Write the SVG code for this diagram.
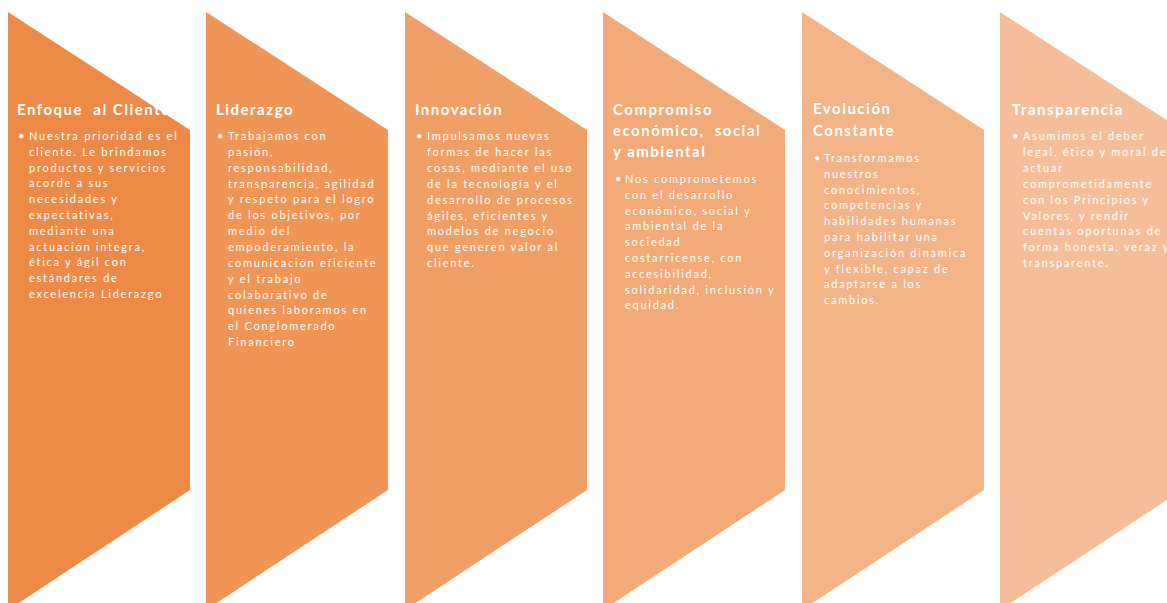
<svg xmlns="http://www.w3.org/2000/svg" width="1167" height="603" viewBox="0 0 1167 603">
<style>
.t{font-family:Lato,"Open Sans","Liberation Sans",sans-serif;font-weight:bold;font-size:15px;letter-spacing:1.5px;fill:#fff}
.b{font-family:Lato,"Open Sans","Liberation Sans",sans-serif;font-size:11px;letter-spacing:1.75px;fill:#fff}
</style>
<rect width="1167" height="603" fill="#fff"/>
<g id="n1">
<polygon points="8,12 190,130 190,490 8,610" fill="#EE8A47"/>
<text class="t" x="17" y="115" xml:space="preserve">Enfoque  al Cliente</text>
<text class="b" x="18" y="140">•</text>
<text class="b"><tspan x="29" y="140">Nuestra prioridad es el</tspan><tspan x="29" y="155.8">cliente. Le brindamos</tspan><tspan x="29" y="171.6">productos  y servicios</tspan><tspan x="29" y="187.4">acorde a sus</tspan><tspan x="29" y="203.2">necesidades y</tspan><tspan x="29" y="219">expectativas,</tspan><tspan x="29" y="234.8">mediante una</tspan><tspan x="29" y="250.6">actuación integra,</tspan><tspan x="29" y="266.4">ética y ágil con</tspan><tspan x="29" y="282.2">estándares de</tspan><tspan x="29" y="298">excelencia Liderazgo</tspan></text>
</g>
<g id="n2">
<polygon points="206,12 388,130 388,490 206,610" fill="#EF9556"/>
<text class="t" x="216" y="115">Liderazgo</text>
<text class="b" x="217" y="140">•</text>
<text class="b"><tspan x="228" y="140">Trabajamos con</tspan><tspan x="228" y="155.85">pasión,</tspan><tspan x="228" y="171.7">responsabilidad,</tspan><tspan x="228" y="187.55">transparencia, agilidad</tspan><tspan x="228" y="203.4">y respeto para el logro</tspan><tspan x="228" y="219.25">de los objetivos, por</tspan><tspan x="228" y="235.1">medio del</tspan><tspan x="228" y="250.95">empoderamiento, la</tspan><tspan x="228" y="266.8">comunicación eficiente</tspan><tspan x="228" y="282.65">y el trabajo</tspan><tspan x="228" y="298.5">colaborativo de</tspan><tspan x="228" y="314.35">quienes laboramos en</tspan><tspan x="228" y="330.2">el Conglomerado</tspan><tspan x="228" y="346.05">Financiero</tspan></text>
</g>
<g id="n3">
<polygon points="405,12 587,130 587,490 405,610" fill="#F09F66"/>
<text class="t" x="415" y="115">Innovación</text>
<text class="b" x="416" y="140">•</text>
<text class="b"><tspan x="427" y="140">Impulsamos nuevas</tspan><tspan x="427" y="155.9">formas de hacer las</tspan><tspan x="427" y="171.8">cosas, mediante el uso</tspan><tspan x="427" y="187.7">de la tecnología y el</tspan><tspan x="427" y="203.6">desarrollo de procesos</tspan><tspan x="427" y="219.5">ágiles, eficientes y</tspan><tspan x="427" y="235.4">modelos de negocio</tspan><tspan x="427" y="251.3">que generen valor al</tspan><tspan x="427" y="267.2">cliente.</tspan></text>
</g>
<g id="n4">
<polygon points="603,12 785,130 785,490 603,610" fill="#F2AA78"/>
<text class="t" xml:space="preserve"><tspan x="613" y="115">Compromiso</tspan><tspan x="613" y="136">económico,  social</tspan><tspan x="613" y="157">y ambiental</tspan></text>
<text class="b" x="615" y="183">•</text>
<text class="b"><tspan x="625" y="183">Nos comprometemos</tspan><tspan x="625" y="198.8">con el desarrollo</tspan><tspan x="625" y="214.6">económico, social y</tspan><tspan x="625" y="230.4">ambiental de la</tspan><tspan x="625" y="246.2">sociedad</tspan><tspan x="625" y="262">costarricense, con</tspan><tspan x="625" y="277.8">accesibilidad,</tspan><tspan x="625" y="293.6">solidaridad, inclusión y</tspan><tspan x="625" y="309.4">equidad.</tspan></text>
</g>
<g id="n5">
<polygon points="802,12 984,130 984,490 802,610" fill="#F3B488"/>
<text class="t"><tspan x="813" y="114">Evolución</tspan><tspan x="813" y="135.5">Constante</tspan></text>
<text class="b" x="814" y="162">•</text>
<text class="b"><tspan x="824" y="162">Transformamos</tspan><tspan x="824" y="177.8">nuestros</tspan><tspan x="824" y="193.6">conocimientos,</tspan><tspan x="824" y="209.4">competencias y</tspan><tspan x="824" y="225.2">habilidades humanas</tspan><tspan x="824" y="241">para habilitar una</tspan><tspan x="824" y="256.8">organización dinámica</tspan><tspan x="824" y="272.6">y flexible, capaz de</tspan><tspan x="824" y="288.4">adaptarse a los</tspan><tspan x="824" y="304.2">cambios.</tspan></text>
</g>
<g id="n6">
<polygon points="1000,12 1182,130 1182,490 1000,610" fill="#F5BE98"/>
<text class="t" x="1012" y="115">Transparencia</text>
<text class="b" x="1012" y="140">•</text>
<text class="b"><tspan x="1023" y="140">Asumimos el deber</tspan><tspan x="1023" y="155.9">legal, ético y moral de</tspan><tspan x="1023" y="171.8">actuar</tspan><tspan x="1023" y="187.7">comprometidamente</tspan><tspan x="1023" y="203.6">con los Principios y</tspan><tspan x="1023" y="219.5">Valores, y rendir</tspan><tspan x="1023" y="235.4">cuentas oportunas de</tspan><tspan x="1023" y="251.3">forma honesta, veraz y</tspan><tspan x="1023" y="267.2">transparente.</tspan></text>
</g>
</svg>
